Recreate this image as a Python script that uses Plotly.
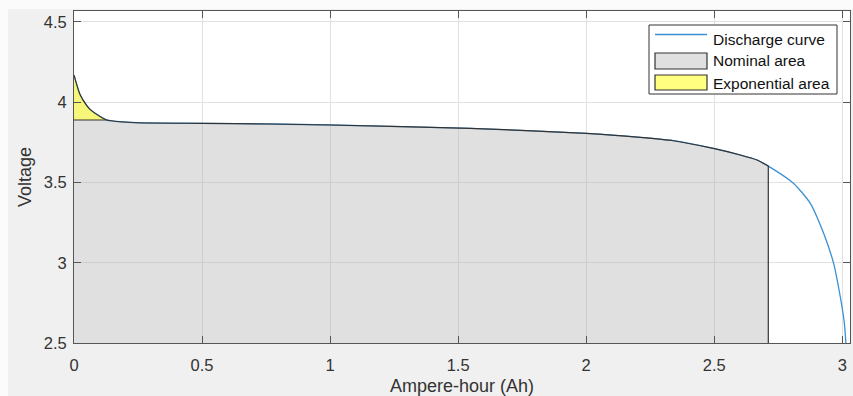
import numpy as np
import plotly.graph_objects as go

# Discharge characteristic: charge drawn (Ah) vs terminal voltage (V)
ah = [0.0, 0.023, 0.05, 0.0625, 0.10, 0.128, 0.18, 0.245, 0.50, 0.766, 1.0,
      1.547, 2.0, 2.211, 2.341, 2.496, 2.602, 2.667, 2.711, 2.81, 2.875,
      2.927, 2.966, 2.992, 3.008, 3.014]
voltage = [4.169, 4.05, 3.978, 3.955, 3.912, 3.889, 3.878, 3.872, 3.868, 3.864,
           3.858, 3.837, 3.806, 3.781, 3.760, 3.712, 3.671, 3.640, 3.602,
           3.494, 3.370, 3.183, 2.996, 2.788, 2.623, 2.50]

# End points of the exponential and nominal zones
exp_ah, exp_v = 0.128, 3.889
nom_ah, nom_v = 2.711, 3.602

x_ticks = [0, 0.5, 1, 1.5, 2, 2.5, 3]
y_ticks = [2.5, 3, 3.5, 4, 4.5]
legend_labels = ["Discharge curve", "Nominal area", "Exponential area"]

X_RANGE = [0, 3.03]
Y_RANGE = [2.5, 4.568]

W, H = 853, 396
ML, MR, MT, MB = 74, 3, 11, 53
PW, PH = W - ML - MR, H - MT - MB

a = np.array(ah)
v = np.array(voltage)

# Exponential zone polygon: curve from 0 to exp_ah, closed along exp_v
m_exp = a <= exp_ah
exp_x = list(a[m_exp]) + [exp_ah, 0.0, 0.0]
exp_y = list(v[m_exp]) + [exp_v, exp_v, v[0]]

# Nominal zone polygon: under the curve from 0 to nom_ah
m_nom = (a > exp_ah) & (a <= nom_ah)
nom_x = [0.0, 0.0, exp_ah] + list(a[m_nom]) + [nom_ah, nom_ah, 0.0]
nom_y = [Y_RANGE[0], exp_v, exp_v] + list(v[m_nom]) + [nom_v, Y_RANGE[0], Y_RANGE[0]]

# Outline of both zones along the curve
m_edge = a <= nom_ah
edge_x = list(a[m_edge])
edge_y = list(v[m_edge])

GRAY_FILL = "rgba(178,178,178,0.40)"
YELLOW_FILL = "rgba(240,240,40,0.62)"
EDGE = "#333333"
BLUE = "#3b90d2"
TEXT = "#333333"
FONT = "Liberation Sans, Arial, Helvetica, sans-serif"

fig = go.Figure()
fig.add_trace(go.Scatter(x=ah, y=voltage, mode="lines",
                         line=dict(color=BLUE, width=1.3, shape="spline", smoothing=0.6),
                         name=legend_labels[0], showlegend=False, hoverinfo="skip"))
fig.add_trace(go.Scatter(x=nom_x, y=nom_y, mode="lines", fill="toself",
                         fillcolor=GRAY_FILL, line=dict(width=0),
                         name=legend_labels[1], showlegend=False, hoverinfo="skip"))
fig.add_trace(go.Scatter(x=exp_x, y=exp_y, mode="lines", fill="toself",
                         fillcolor=YELLOW_FILL, line=dict(width=0),
                         name=legend_labels[2], showlegend=False, hoverinfo="skip"))
# zone edges: smooth top along the curve, straight sides
fig.add_trace(go.Scatter(x=edge_x, y=edge_y, mode="lines",
                         line=dict(color=EDGE, width=1.2, shape="spline", smoothing=0.6),
                         showlegend=False, hoverinfo="skip"))
fig.add_trace(go.Scatter(x=[0.0, exp_ah], y=[exp_v, exp_v], mode="lines",
                         line=dict(color=EDGE, width=1.2), showlegend=False, hoverinfo="skip"))
fig.add_trace(go.Scatter(x=[nom_ah, nom_ah], y=[nom_v, Y_RANGE[0]], mode="lines",
                         line=dict(color=EDGE, width=1.2), showlegend=False, hoverinfo="skip"))


def px(xp):
    return (xp - ML) / PW


def py(yp):
    return (H - MB - yp) / PH


shapes = [
    # white margins of the window frame
    dict(type="rect", xref="paper", yref="paper", x0=px(0), x1=px(8), y0=py(H), y1=py(0),
         fillcolor="#fbfbfb", line_width=0, layer="above"),
    dict(type="rect", xref="paper", yref="paper", x0=px(0), x1=px(W), y0=py(9), y1=py(0),
         fillcolor="#fbfbfb", line_width=0, layer="above"),
    # legend box
    dict(type="rect", xref="paper", yref="paper", x0=px(649), x1=px(837), y0=py(94), y1=py(25),
         fillcolor="white", line=dict(color="#333333", width=1), layer="above"),
    dict(type="line", xref="paper", yref="paper", x0=px(655), x1=px(707), y0=py(34.5), y1=py(34.5),
         line=dict(color=BLUE, width=1.3), layer="above"),
    dict(type="rect", xref="paper", yref="paper", x0=px(655), x1=px(707), y0=py(69), y1=py(53),
         fillcolor="#e0e0e0", line=dict(color=EDGE, width=1.2), layer="above"),
    dict(type="rect", xref="paper", yref="paper", x0=px(655), x1=px(707), y0=py(90), y1=py(75),
         fillcolor="#ffff80", line=dict(color=EDGE, width=1.2), layer="above"),
]

annotations = []
for label, yc in zip(legend_labels, [39, 61, 83]):
    annotations.append(dict(text=label, xref="paper", yref="paper", x=px(711), y=py(yc),
                            xanchor="left", yanchor="middle", showarrow=False,
                            font=dict(family=FONT, size=15.5, color="#111111")))

axis_common = dict(showgrid=True, gridcolor="#e2e2e2", gridwidth=1, zeroline=False,
                   showline=True, linecolor="#555555", linewidth=1, mirror="ticks",
                   ticks="inside", ticklen=7, tickcolor="#555555", tickwidth=1,
                   automargin=False,
                   tickfont=dict(family=FONT, size=16.5, color=TEXT))

fig.update_layout(
    width=W, height=H,
    margin=dict(l=ML, r=MR, t=MT, b=MB, pad=0, autoexpand=False),
    paper_bgcolor="#f0f0f0", plot_bgcolor="white",
    shapes=shapes, annotations=annotations, showlegend=False,
    xaxis=dict(range=X_RANGE, tickvals=x_ticks, ticktext=[f"{t:g}" for t in x_ticks],
               ticklabelstandoff=7,
               title=dict(text="Ampere-hour (Ah)", standoff=11,
                          font=dict(family=FONT, size=18, color=TEXT)),
               **axis_common),
    yaxis=dict(range=Y_RANGE, tickvals=y_ticks, ticktext=[f"{t:g}" for t in y_ticks],
               ticklabelstandoff=3,
               title=dict(text="Voltage", standoff=7,
                          font=dict(family=FONT, size=18, color=TEXT)),
               **axis_common),
)

fig.write_html("out.html")
